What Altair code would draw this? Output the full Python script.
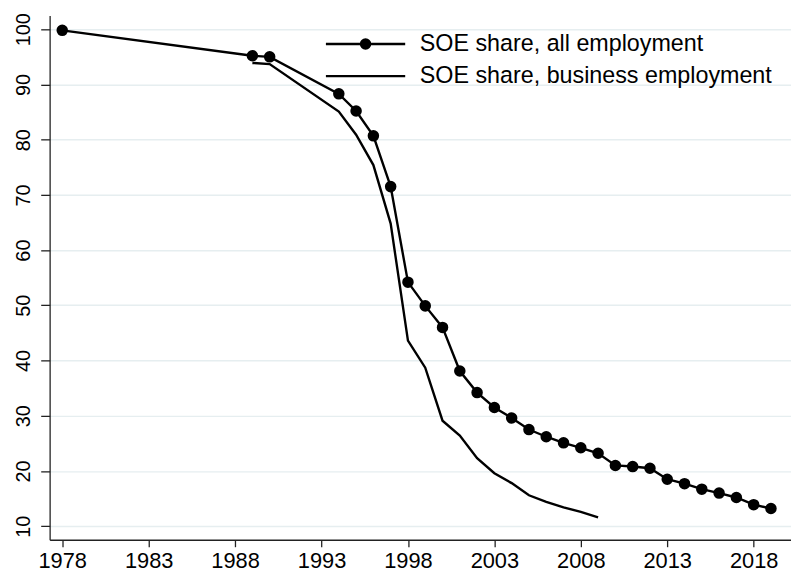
import altair as alt
import pandas as pd

# ---- data ----
years_all = [1978, 1989, 1990, 1994, 1995, 1996, 1997, 1998, 1999, 2000, 2001, 2002,
             2003, 2004, 2005, 2006, 2007, 2008, 2009, 2010, 2011, 2012, 2013, 2014,
             2015, 2016, 2017, 2018, 2019]
share_all = [99.8, 95.2, 95.0, 88.3, 85.2, 80.7, 71.5, 54.2, 49.9, 46.0, 38.1, 34.2,
             31.5, 29.6, 27.5, 26.2, 25.1, 24.2, 23.2, 21.0, 20.8, 20.5, 18.5, 17.7,
             16.7, 16.0, 15.2, 13.9, 13.2]

years_bus = [1989, 1990, 1994, 1995, 1996, 1997, 1998, 1999, 2000, 2001, 2002, 2003,
             2004, 2005, 2006, 2007, 2008, 2009]
share_bus = [93.9, 93.7, 85.1, 80.9, 75.4, 64.8, 43.6, 38.7, 29.1, 26.4, 22.3, 19.6,
             17.8, 15.6, 14.4, 13.4, 12.6, 11.6]

series_names = ["SOE share, all employment", "SOE share, business employment"]
x_ticks = [1978, 1983, 1988, 1993, 1998, 2003, 2008, 2013, 2018]
y_ticks = [10, 20, 30, 40, 50, 60, 70, 80, 90, 100]

df = pd.concat([
    pd.DataFrame({"year": years_all, "share": share_all, "series": series_names[0]}),
    pd.DataFrame({"year": years_bus, "share": share_bus, "series": series_names[1]}),
], ignore_index=True)

FONT = "Liberation Sans"


def ring(r):
    return f"M{r},0A{r},{r},0,1,1,-{r},0A{r},{r},0,1,1,{r},0Z"


# legend symbols (unit = 10 px): a line with a solid dot made of stroked rings,
# and a plain line
sym_all = "M-4,0L4,0" + ring(0.46) + ring(0.25) + ring(0.07)
sym_bus = "M-4,0L4,0"

x_enc = alt.X("year:Q",
              scale=alt.Scale(domain=[1977.27, 2020.16], nice=False, zero=False),
              axis=alt.Axis(values=x_ticks, format="d", title=None, grid=False,
                            labelFontSize=22, labelFont=FONT, labelColor="black",
                            tickSize=7, labelPadding=4, labelFlush=False,
                            labelOverlap=False, domainColor="#222", tickColor="#222",
                            domainWidth=1.3, tickWidth=1.3))
y_enc = alt.Y("share:Q",
              scale=alt.Scale(domain=[7.54, 102.5], nice=False, zero=False),
              axis=alt.Axis(values=y_ticks, title=None, grid=True,
                            gridColor="#e6eef0", gridWidth=1.5,
                            labelAngle=270, labelAlign="center",
                            labelBaseline="alphabetic", labelPadding=11,
                            labelFontSize=20, labelFont=FONT, labelColor="black",
                            tickSize=9, domainColor="#222", tickColor="#222",
                            domainWidth=1.3, tickWidth=1.3, labelOverlap=False))

base = alt.Chart(df)

lines = base.mark_line(color="black", strokeWidth=2.4).encode(
    x=x_enc, y=y_enc, detail="series:N")

dots = base.transform_filter(
    alt.datum.series == series_names[0]
).mark_circle(size=135, color="black", opacity=1).encode(x=x_enc, y=y_enc)

legend_layer = base.mark_point(opacity=0, filled=False, color="black",
                               strokeWidth=2.4).encode(
    x=x_enc, y=y_enc,
    shape=alt.Shape("series:N",
                    scale=alt.Scale(domain=series_names, range=[sym_all, sym_bus]),
                    legend=alt.Legend(title=None, orient="none", legendX=307,
                                      legendY=17, symbolSize=400,
                                      symbolStrokeWidth=2.4,
                                      symbolStrokeColor="black",
                                      symbolOpacity=1,
                                      labelFontSize=23.5, labelFont=FONT,
                                      labelColor="black", labelOffset=43,
                                      rowPadding=7.5, padding=0, labelLimit=0)))

chart = alt.layer(lines, dots, legend_layer).properties(
    width=748, height=529,
    autosize=alt.AutoSizeParams(type="none"),
    padding={"left": 42, "top": 5, "right": 0, "bottom": 30},
    background="white",
).configure_view(stroke=None)

chart.save("out.html", embed_options={"renderer": "svg", "actions": False})
